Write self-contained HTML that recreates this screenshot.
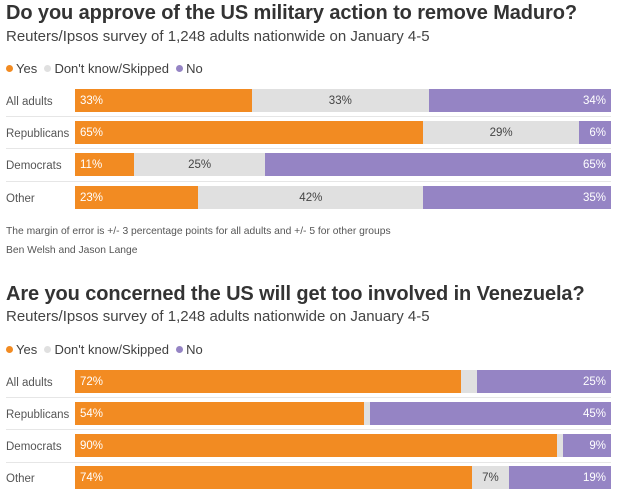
<!DOCTYPE html>
<html><head><style>
body{margin:0;width:620px;height:499px;background:#fff;font-family:"Liberation Sans",sans-serif;color:#404040;position:relative;overflow:hidden}
.a{position:absolute;white-space:nowrap}
.t{font-weight:bold;font-size:20px;color:#333;left:6px;letter-spacing:-0.1px}
.s{font-size:15px;left:6px;color:#444}
.lg{font-size:13px;left:6px}
.dot{display:inline-block;width:7px;height:7px;border-radius:50%;margin-right:3px;vertical-align:1px}
.lab{font-size:11.5px;left:6px;color:#555;line-height:23px;padding-top:2px}
.bar{position:absolute;left:75px;width:536px;height:23px;display:flex;font-size:11.5px;line-height:24px}
.bar div{height:100%;overflow:hidden;white-space:nowrap}
.y{background:#f28b22;color:#fff;padding-left:5px;box-sizing:border-box}
.g{background:#e0e0e0;color:#444;text-align:center}
.n{background:#9584c4;color:#fff;text-align:right;padding-right:5px;box-sizing:border-box}
.sep{position:absolute;left:6px;width:605px;height:1px;background:#e6e6e6}
.note{font-size:10.3px;left:6px;color:#555}
</style></head><body>
<div class="a t" style="top:2px">Do you approve of the US military action to remove Maduro?</div>
<div class="a s" style="top:28px">Reuters/Ipsos survey of 1,248 adults nationwide on January 4-5</div>
<div class="a lg" style="top:61px"><span class="dot" style="background:#f28b22"></span>Yes &nbsp;<span class="dot" style="background:#e0e0e0"></span>Don't know/Skipped &nbsp;<span class="dot" style="background:#9584c4"></span>No</div>

<div class="a lab" style="top:89px">All adults</div>
<div class="bar" style="top:89px"><div class="y" style="width:33%">33%</div><div class="g" style="width:33%">33%</div><div class="n" style="width:34%">34%</div></div>
<div class="sep" style="top:116px"></div>
<div class="a lab" style="top:121px">Republicans</div>
<div class="bar" style="top:121px"><div class="y" style="width:65%">65%</div><div class="g" style="width:29%">29%</div><div class="n" style="width:6%">6%</div></div>
<div class="sep" style="top:148px"></div>
<div class="a lab" style="top:153px">Democrats</div>
<div class="bar" style="top:153px"><div class="y" style="width:11%">11%</div><div class="g" style="width:24.5%">25%</div><div class="n" style="width:64.5%">65%</div></div>
<div class="sep" style="top:181px"></div>
<div class="a lab" style="top:186px">Other</div>
<div class="bar" style="top:186px"><div class="y" style="width:23%">23%</div><div class="g" style="width:42%">42%</div><div class="n" style="width:35%">35%</div></div>

<div class="a note" style="top:226px">The margin of error is +/- 3 percentage points for all adults and +/- 5 for other groups</div>
<div class="a note" style="top:245px">Ben Welsh and Jason Lange</div>

<div class="a t" style="top:283px">Are you concerned the US will get too involved in Venezuela?</div>
<div class="a s" style="top:308px">Reuters/Ipsos survey of 1,248 adults nationwide on January 4-5</div>
<div class="a lg" style="top:342px"><span class="dot" style="background:#f28b22"></span>Yes &nbsp;<span class="dot" style="background:#e0e0e0"></span>Don't know/Skipped &nbsp;<span class="dot" style="background:#9584c4"></span>No</div>

<div class="a lab" style="top:370px">All adults</div>
<div class="bar" style="top:370px"><div class="y" style="width:72%">72%</div><div class="g" style="width:3%"></div><div class="n" style="width:25%">25%</div></div>
<div class="sep" style="top:397px"></div>
<div class="a lab" style="top:402px">Republicans</div>
<div class="bar" style="top:402px"><div class="y" style="width:54%">54%</div><div class="g" style="width:1%"></div><div class="n" style="width:45%">45%</div></div>
<div class="sep" style="top:429px"></div>
<div class="a lab" style="top:434px">Democrats</div>
<div class="bar" style="top:434px"><div class="y" style="width:90%">90%</div><div class="g" style="width:1%"></div><div class="n" style="width:9%">9%</div></div>
<div class="sep" style="top:462px"></div>
<div class="a lab" style="top:466px">Other</div>
<div class="bar" style="top:466px"><div class="y" style="width:74%">74%</div><div class="g" style="width:7%">7%</div><div class="n" style="width:19%">19%</div></div>
</body></html>
